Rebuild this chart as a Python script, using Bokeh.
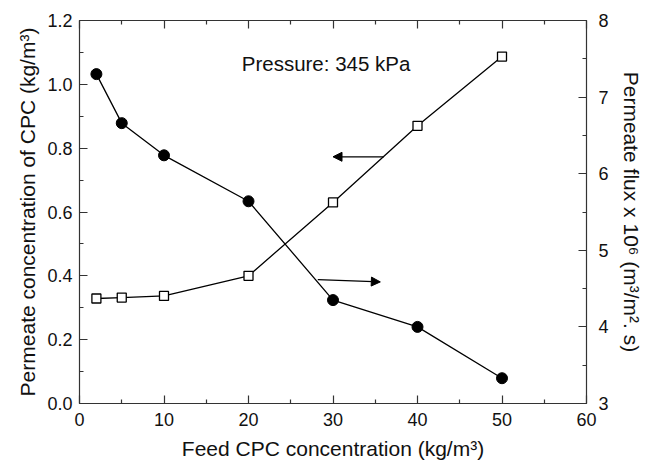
from bokeh.plotting import figure
from bokeh.models import (Range1d, LinearAxis, FixedTicker, PrintfTickFormatter,
                          CustomJSTickFormatter, Arrow, NormalHead, Label)
from bokeh.embed import file_html
from bokeh.resources import INLINE

# ---- data ----
feed_conc = [2, 5, 10, 20, 30, 40, 50]
permeate_conc = [0.329, 0.332, 0.337, 0.400, 0.630, 0.870, 1.087]   # kg/m3 (left axis)
permeate_flux = [7.30, 6.66, 6.24, 5.64, 4.35, 4.00, 3.33]          # x 1e6 m3/m2.s (right axis)

x_ticks = [0, 10, 20, 30, 40, 50, 60]
x_minor = [5, 15, 25, 35, 45, 55]
y_left_ticks = [0.0, 0.2, 0.4, 0.6, 0.8, 1.0, 1.2]
y_left_minor = [0.1, 0.3, 0.5, 0.7, 0.9, 1.1]
y_right_ticks = [3, 4, 5, 6, 7, 8]
y_right_minor = [3.5, 4.5, 5.5, 6.5, 7.5]

x_label = "Feed CPC concentration (kg/m\u00b3)"
y_left_label = "Permeate concentration of CPC (kg/m\u00b3)"
y_right_label = "Permeate flux x 10\u2076 (m\u00b3/m\u00b2. s)"
annotation = "Pressure: 345 kPa"

FONT = "Liberation Sans"
AXC = "#333333"
TXT = "#111111"

p = figure(width=645, height=464, output_backend="svg", toolbar_location=None,
           x_range=Range1d(0, 60), y_range=Range1d(0, 1.2),
           min_border_left=79, min_border_right=55, min_border_top=20, min_border_bottom=61,
           x_axis_location=None, y_axis_location=None)
p.extra_y_ranges = {"flux": Range1d(3, 8)}
p.xgrid.visible = False
p.ygrid.visible = False
p.outline_line_color = AXC
p.background_fill_color = "white"
p.border_fill_color = "white"


def style(ax, label_size="18px"):
    ax.axis_line_color = AXC
    ax.axis_line_width = 1.2
    ax.major_tick_line_color = AXC
    ax.minor_tick_line_color = AXC
    ax.major_tick_line_width = 1.2
    ax.minor_tick_line_width = 1.2
    ax.major_tick_in = 8
    ax.major_tick_out = 0
    ax.minor_tick_in = 4
    ax.minor_tick_out = 0
    ax.major_label_text_font = FONT
    ax.major_label_text_font_size = label_size
    ax.major_label_text_color = TXT
    ax.axis_label_text_font = FONT
    ax.axis_label_text_font_size = "21px"
    ax.axis_label_text_font_style = "normal"
    ax.axis_label_text_color = TXT


xb = LinearAxis(ticker=FixedTicker(ticks=x_ticks, minor_ticks=x_minor), axis_label=x_label)
style(xb)
xb.major_label_standoff = 9
xb.axis_label_standoff = 8
p.add_layout(xb, "below")

xt = LinearAxis(ticker=FixedTicker(ticks=x_ticks, minor_ticks=x_minor),
                formatter=CustomJSTickFormatter(code="return ''"))
style(xt)
xt.major_label_standoff = 0
p.add_layout(xt, "above")

yl = LinearAxis(ticker=FixedTicker(ticks=y_left_ticks, minor_ticks=y_left_minor),
                formatter=PrintfTickFormatter(format="%.1f"), axis_label=y_left_label)
style(yl)
yl.major_label_standoff = 7
yl.axis_label_standoff = 5
p.add_layout(yl, "left")

yr = LinearAxis(y_range_name="flux", ticker=FixedTicker(ticks=y_right_ticks, minor_ticks=y_right_minor),
                axis_label=y_right_label)
style(yr)
yr.major_label_standoff = 12
yr.axis_label_standoff = 8
p.add_layout(yr, "right")

# series
p.line(feed_conc, permeate_conc, line_color="black", line_width=1.3)
p.scatter(feed_conc, permeate_conc, marker="square", size=9, fill_color="white",
          line_color="black", line_width=1.3)

p.line(feed_conc, permeate_flux, line_color="black", line_width=1.3, y_range_name="flux")
p.scatter(feed_conc, permeate_flux, marker="circle", size=11, fill_color="black",
          line_color="black", y_range_name="flux")

# arrows
p.add_layout(Arrow(x_start=36.0, y_start=0.773, x_end=30.0, y_end=0.773, line_width=1.3,
                   line_color="black",
                   end=NormalHead(size=9, fill_color="black", line_color="black", line_width=1)))
p.add_layout(Arrow(x_start=28.2, y_start=0.388, x_end=35.6, y_end=0.381, line_width=1.3,
                   line_color="black",
                   end=NormalHead(size=9, fill_color="black", line_color="black", line_width=1)))

p.add_layout(Label(x=19.2, y=1.066, text=annotation, text_font=FONT, text_font_size="20.5px",
                   text_color=TXT, text_baseline="alphabetic", text_align="left"))

open("out.html", "w").write(file_html(p, INLINE))
